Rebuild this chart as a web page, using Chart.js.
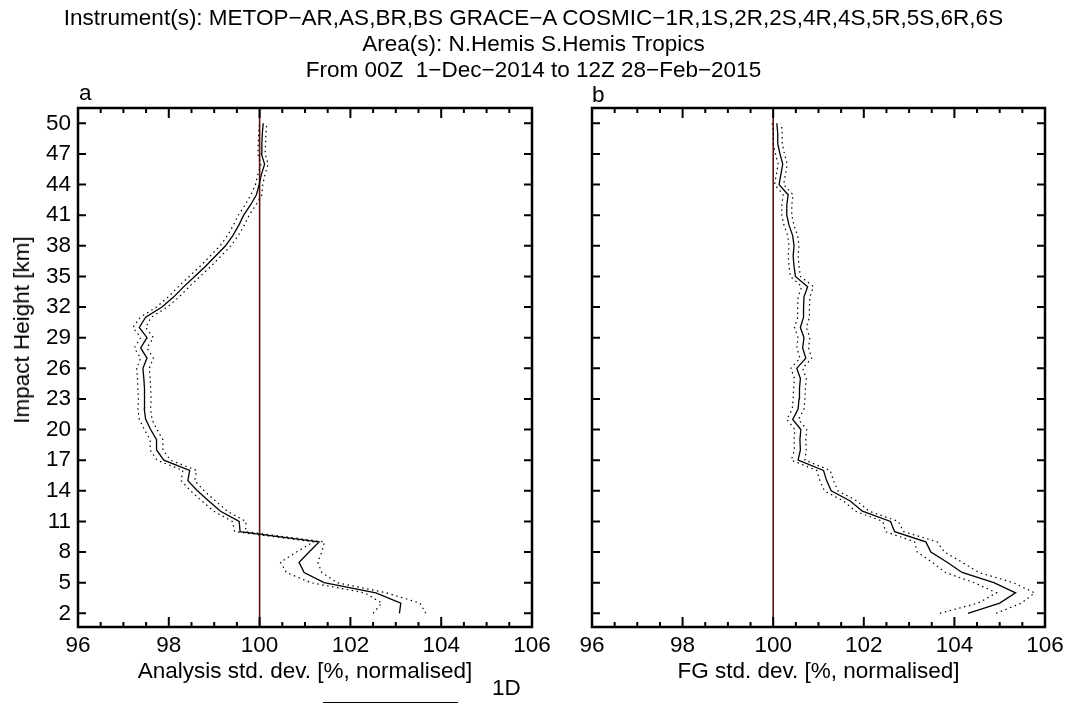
<!DOCTYPE html>
<html>
<head>
<meta charset="utf-8">
<script src="https://cdn.jsdelivr.net/npm/chart.js@4.4.1/dist/chart.umd.min.js"></script>
<style>
body { margin: 0; background: #fff; width: 1067px; height: 727px; overflow: hidden; font-family: "Liberation Sans", Arial, sans-serif; }
canvas { position: absolute; top: 0; }
.t { position: absolute; white-space: nowrap; font-size: 22.5px; line-height: 26px; color: #000; }
</style>
</head>
<body>
<canvas id="chartA" width="560" height="727" style="left:0"></canvas>
<canvas id="chartB" width="507" height="727" style="left:560px"></canvas>

<div class="t" style="left:0;width:1067px;text-align:center;top:5px">Instrument(s): METOP&minus;AR,AS,BR,BS GRACE&minus;A COSMIC&minus;1R,1S,2R,2S,4R,4S,5R,5S,6R,6S</div>
<div class="t" style="left:0;width:1067px;text-align:center;top:31px">Area(s): N.Hemis S.Hemis Tropics</div>
<div class="t" style="left:0;width:1067px;text-align:center;top:57px">From 00Z&nbsp; 1&minus;Dec&minus;2014 to 12Z 28&minus;Feb&minus;2015</div>
<div class="t" style="left:79px;top:80px">a</div>
<div class="t" style="left:592px;top:82px">b</div>
<div class="t" style="left:22px;top:330px;transform:translate(-50%,-50%) rotate(-90deg)">Impact Height [km]</div>
<div class="t" style="left:78px;width:454px;text-align:center;top:658px">Analysis std. dev. [%, normalised]</div>
<div class="t" style="left:592px;width:453px;text-align:center;top:658px">FG std. dev. [%, normalised]</div>
<div style="position:absolute;left:323px;top:702px;width:135px;border-top:1.5px solid #000"></div>
<div class="t" style="left:492px;top:675px">1D</div>

<script>
// impact heights [km]
const heights = [2,3,4,5,6,7,8,9,10,11,12,13,14,15,16,17,18,19,20,21,22,23,24,25,26,
  27,28,29,30,31,32,33,34,35,36,37,38,39,40,41,42,43,44,45,46,47,48,49,50];

// panel a: analysis std. dev. (normalised, %)
const anValues = [103.08,103.11,102.56,101.42,100.98,100.87,101.09,101.31,99.57,99.55,
  99.14,98.88,98.63,98.42,98.46,97.89,97.73,97.73,97.60,97.49,97.46,97.47,97.46,97.45,97.43,
  97.52,97.38,97.52,97.35,97.49,97.85,98.11,98.33,98.57,98.81,99.03,99.25,99.41,99.54,99.65,
  99.80,99.93,99.99,100.04,100.11,100.04,100.05,100.06,100.08];
const anSpread = [0.58,0.42,0.24,0.29,0.39,0.41,0.28,0.12,0.12,0.15,
  0.15,0.15,0.15,0.15,0.15,0.15,0.14,0.14,0.14,0.14,0.14,0.14,0.14,0.14,0.14,
  0.14,0.14,0.14,0.14,0.12,0.12,0.12,0.12,0.12,0.12,0.12,0.12,0.12,0.12,0.12,
  0.12,0.12,0.08,0.08,0.08,0.08,0.08,0.08,0.08];

// panel b: first guess std. dev. (normalised, %)
const fgValues = [104.30,105.00,105.35,104.87,104.17,103.84,103.48,103.37,102.68,102.59,
  101.97,101.70,101.28,101.18,101.11,100.55,100.60,100.59,100.61,100.43,100.55,100.57,100.58,100.60,100.52,
  100.72,100.65,100.68,100.60,100.67,100.67,100.68,100.76,100.49,100.46,100.44,100.46,100.43,100.35,100.30,
  100.30,100.33,100.13,100.17,100.21,100.15,100.10,100.10,100.08];
const fgSpread = [0.62,0.48,0.42,0.43,0.37,0.33,0.30,0.25,0.20,0.17,
  0.15,0.15,0.15,0.15,0.15,0.15,0.13,0.13,0.13,0.13,0.13,0.13,0.13,0.13,0.13,
  0.13,0.13,0.13,0.13,0.13,0.13,0.13,0.13,0.11,0.11,0.11,0.11,0.11,0.11,0.11,
  0.11,0.11,0.10,0.10,0.10,0.10,0.10,0.10,0.10];

const xTicks = [96, 98, 100, 102, 104, 106];
const yTicks = [2,5,8,11,14,17,20,23,26,29,32,35,38,41,44,47,50];
const X_MIN = 96, X_MAX = 106, X_MINOR = 0.5;
const Y_MIN = 0.66, Y_MAX = 51.5;
const REF = 100;

const FONT = '22.5px "Liberation Sans", Arial, sans-serif';

// IDL-like frame: inward ticks on all four sides, labels outside
const frameTicks = {
  id: 'frameTicks',
  afterDraw(chart, args, opts) {
    const { ctx, chartArea: a, scales: { x, y } } = chart;
    ctx.save();
    ctx.strokeStyle = '#000';
    ctx.lineWidth = 2;
    ctx.beginPath();
    for (let v = X_MIN; v <= X_MAX + 1e-9; v += X_MINOR) {
      const px = x.getPixelForValue(v);
      const len = xTicks.includes(Math.round(v * 100) / 100) ? 10 : 5;
      ctx.moveTo(px, a.bottom); ctx.lineTo(px, a.bottom - len);
      ctx.moveTo(px, a.top); ctx.lineTo(px, a.top + len);
    }
    yTicks.forEach(v => {
      const py = y.getPixelForValue(v);
      ctx.moveTo(a.left, py); ctx.lineTo(a.left + 8, py);
      ctx.moveTo(a.right, py); ctx.lineTo(a.right - 8, py);
    });
    ctx.stroke();
    ctx.lineWidth = 2.5;
    ctx.strokeRect(a.left, a.top, a.right - a.left, a.bottom - a.top);

    ctx.fillStyle = '#000';
    ctx.font = FONT;
    ctx.textAlign = 'center';
    ctx.textBaseline = 'middle';
    xTicks.forEach(v => ctx.fillText(String(v), x.getPixelForValue(v), a.bottom + 19));
    if (opts.yLabels) {
      ctx.textAlign = 'right';
      yTicks.forEach(v => ctx.fillText(String(v), a.left - 7, y.getPixelForValue(v)));
    }
    ctx.restore();
  }
};

function makePanel(id, values, spread, padding, yLabels) {
  const pts = values.map((v, i) => ({ x: v, y: heights[i] }));
  const lo = values.map((v, i) => ({ x: v - spread[i], y: heights[i] }));
  const hi = values.map((v, i) => ({ x: v + spread[i], y: heights[i] }));
  const dotted = { borderColor: '#000', borderWidth: 1.2, borderDash: [1.5, 3.5], pointRadius: 0, showLine: true, fill: false };
  return new Chart(document.getElementById(id), {
    type: 'scatter',
    data: {
      datasets: [
        { label: '1D', data: pts, borderColor: '#000', borderWidth: 1.3, pointRadius: 0, showLine: true },
        Object.assign({ label: 'lower', data: lo }, dotted),
        Object.assign({ label: 'upper', data: hi }, dotted),
        { label: 'ref', data: [{ x: REF, y: Y_MIN }, { x: REF, y: Y_MAX }],
          borderColor: '#5a1414', borderWidth: 1.6, pointRadius: 0, showLine: true }
      ]
    },
    options: {
      responsive: false,
      animation: false,
      events: [],
      layout: { padding: padding },
      plugins: { legend: { display: false }, tooltip: { enabled: false }, frameTicks: { yLabels: yLabels } },
      scales: {
        x: { type: 'linear', min: X_MIN, max: X_MAX, display: false },
        y: { type: 'linear', min: Y_MIN, max: Y_MAX, display: false }
      }
    },
    plugins: [frameTicks]
  });
}

makePanel('chartA', anValues, anSpread, { left: 78, right: 28, top: 108, bottom: 100 }, true);
makePanel('chartB', fgValues, fgSpread, { left: 32, right: 22, top: 108, bottom: 100 }, false);
</script>
</body>
</html>
